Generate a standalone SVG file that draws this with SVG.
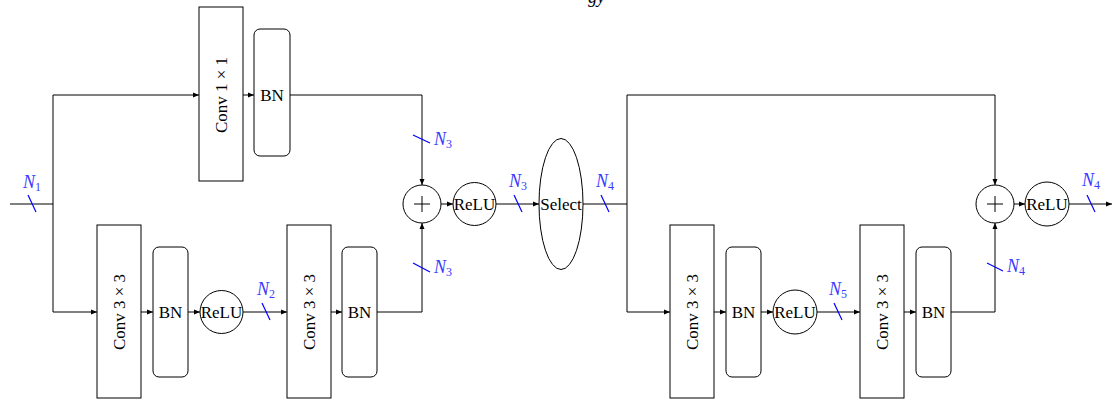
<svg xmlns="http://www.w3.org/2000/svg" width="1115" height="400" viewBox="0 0 1115 400">
<defs>
<marker id="arr" markerUnits="userSpaceOnUse" markerWidth="7" markerHeight="6" refX="6" refY="3" orient="auto">
<path d="M0,0.5 L6,3 L0,5.5 z" fill="#000"/>
</marker>
<style>
.box{fill:#fff;stroke:#000;stroke-width:1}
.txt{font-family:"Liberation Serif",serif;font-size:17px;fill:#000;text-anchor:middle;dominant-baseline:central}
.con{fill:none;stroke:#000;stroke-width:1}
.arw{marker-end:url(#arr)}
.sl{stroke:#0000ff;stroke-width:1.2}
.lab{font-family:"Liberation Serif",serif;font-style:italic;font-size:18px;fill:#3a3aff}
.sub{font-style:normal;font-size:12px}
.plus{stroke:#000;stroke-width:1}
</style>
</defs>
<rect width="1115" height="400" fill="#fff"/>
<text x="588" y="3" style="font-family:'Liberation Serif',serif;font-style:italic;font-size:18px">gy</text>

<g id="connectors">
<path class="con" d="M10,204 H53"/>
<path class="con arw" d="M53,204 V95 H199"/>
<path class="con arw" d="M53,204 V312 H97"/>
<path class="con arw" d="M243,95 H254"/>
<path class="con arw" d="M290,95 H422 V185"/>
<path class="con arw" d="M141,312 H153"/>
<path class="con arw" d="M188,312 H200"/>
<path class="con arw" d="M243,312 H287"/>
<path class="con arw" d="M331,312 H342"/>
<path class="con arw" d="M377,312 H422 V223"/>
<path class="con arw" d="M441,204 H453"/>
<path class="con arw" d="M496,204 H539"/>
<path class="con" d="M583,204 H627"/>
<path class="con arw" d="M627,204 V95 H995 V185"/>
<path class="con arw" d="M627,204 V312 H670"/>
<path class="con arw" d="M714,312 H726"/>
<path class="con arw" d="M761,312 H773"/>
<path class="con arw" d="M817,312 H860"/>
<path class="con arw" d="M904,312 H916"/>
<path class="con arw" d="M951,312 H995 V223"/>
<path class="con arw" d="M1014,204 H1025"/>
<path class="con arw" d="M1069,204 H1112"/>
</g>

<g id="dims">
<line class="sl" x1="28" y1="195" x2="36" y2="212"/>
<text class="lab" x="23" y="188">N<tspan class="sub" dy="3">1</tspan></text>
<line class="sl" x1="413" y1="135" x2="430" y2="143"/>
<text class="lab" x="434" y="145">N<tspan class="sub" dy="3">3</tspan></text>
<line class="sl" x1="413" y1="263" x2="430" y2="272"/>
<text class="lab" x="434" y="273">N<tspan class="sub" dy="3">3</tspan></text>
<line class="sl" x1="514" y1="195" x2="522" y2="212"/>
<text class="lab" x="509" y="187">N<tspan class="sub" dy="3">3</tspan></text>
<line class="sl" x1="601" y1="195" x2="609" y2="212"/>
<text class="lab" x="596" y="187">N<tspan class="sub" dy="3">4</tspan></text>
<line class="sl" x1="262" y1="303" x2="270" y2="320"/>
<text class="lab" x="257" y="295">N<tspan class="sub" dy="3">2</tspan></text>
<line class="sl" x1="834" y1="303" x2="842" y2="320"/>
<text class="lab" x="829" y="295">N<tspan class="sub" dy="3">5</tspan></text>
<line class="sl" x1="987" y1="263" x2="1003" y2="271"/>
<text class="lab" x="1007" y="272">N<tspan class="sub" dy="3">4</tspan></text>
<line class="sl" x1="1087" y1="195" x2="1095" y2="212"/>
<text class="lab" x="1082" y="186">N<tspan class="sub" dy="3">4</tspan></text>
</g>

<g id="conv1x1"><rect class="box" x="199" y="7" width="44" height="174"/><text class="txt" transform="translate(221,95) rotate(-90)">Conv 1 × 1</text></g>
<g id="bn_top"><rect class="box" x="254" y="29" width="36" height="127" rx="6"/><text class="txt" x="272" y="95">BN</text></g>

<g id="conv3x3_a"><rect class="box" x="97" y="225" width="44" height="173"/><text class="txt" transform="translate(119,312) rotate(-90)">Conv 3 × 3</text></g>
<g id="bn_a"><rect class="box" x="153" y="247" width="35" height="130" rx="6"/><text class="txt" x="170.5" y="312">BN</text></g>
<g id="relu_a"><circle class="box" cx="221.5" cy="312" r="21.5"/><text class="txt" x="221.5" y="312">ReLU</text></g>
<g id="conv3x3_b"><rect class="box" x="287" y="225" width="44" height="173"/><text class="txt" transform="translate(309,312) rotate(-90)">Conv 3 × 3</text></g>
<g id="bn_b"><rect class="box" x="342" y="247" width="35" height="130" rx="6"/><text class="txt" x="359.5" y="312">BN</text></g>

<g id="add_1"><circle class="box" cx="422" cy="204" r="19"/><path class="plus" d="M414,204 H430 M422,196 V212"/></g>
<g id="relu_1"><circle class="box" cx="474.5" cy="204" r="21.5"/><text class="txt" x="474.5" y="204">ReLU</text></g>
<g id="select"><ellipse class="box" cx="561" cy="204" rx="22" ry="65.5"/><text class="txt" x="561" y="204">Select</text></g>

<g id="conv3x3_c"><rect class="box" x="670" y="225" width="44" height="173"/><text class="txt" transform="translate(692,312) rotate(-90)">Conv 3 × 3</text></g>
<g id="bn_c"><rect class="box" x="726" y="247" width="35" height="130" rx="6"/><text class="txt" x="743.5" y="312">BN</text></g>
<g id="relu_c"><circle class="box" cx="795" cy="312" r="22"/><text class="txt" x="795" y="312">ReLU</text></g>
<g id="conv3x3_d"><rect class="box" x="860" y="225" width="44" height="173"/><text class="txt" transform="translate(882,312) rotate(-90)">Conv 3 × 3</text></g>
<g id="bn_d"><rect class="box" x="916" y="247" width="35" height="130" rx="6"/><text class="txt" x="933.5" y="312">BN</text></g>

<g id="add_2"><circle class="box" cx="995" cy="204" r="19"/><path class="plus" d="M987,204 H1003 M995,196 V212"/></g>
<g id="relu_2"><circle class="box" cx="1047" cy="204" r="22"/><text class="txt" x="1047" y="204">ReLU</text></g>
</svg>
